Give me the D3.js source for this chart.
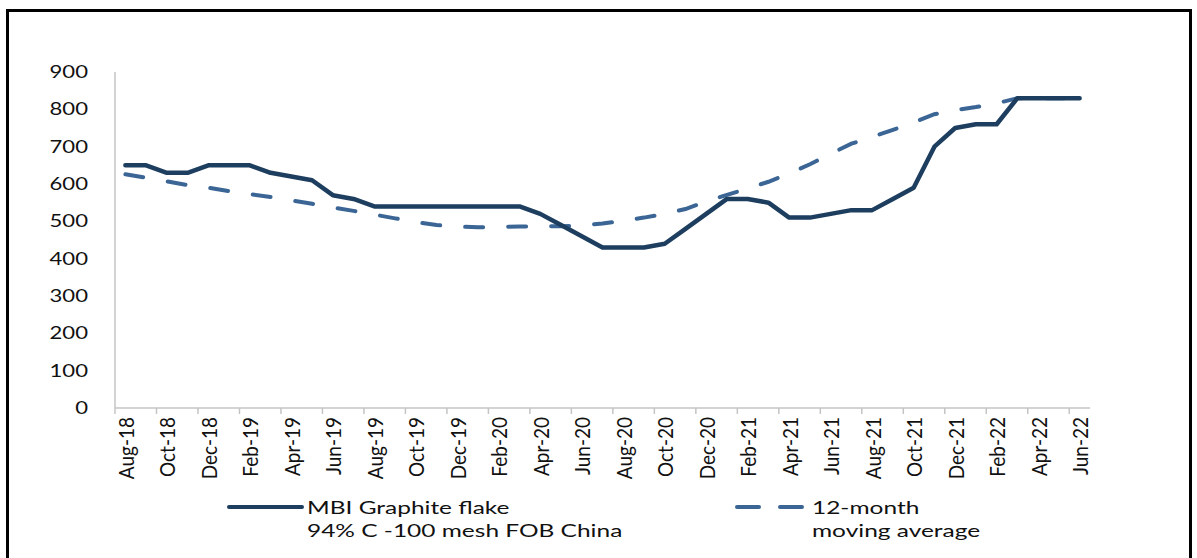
<!DOCTYPE html>
<html>
<head>
<meta charset="utf-8">
<script src="https://cdn.jsdelivr.net/npm/d3@7"></script>
<style>
  html, body { margin: 0; padding: 0; background: #fff; }
  svg { display: block; }
  text { font-family: Lato, "Open Sans", sans-serif; fill: #111; }
</style>
</head>
<body>
<svg id="chart" width="1197" height="558"></svg>
<script>
// ---- data ----
const months = [
  "Aug-18","Sep-18","Oct-18","Nov-18","Dec-18",
  "Jan-19","Feb-19","Mar-19","Apr-19","May-19","Jun-19","Jul-19","Aug-19","Sep-19","Oct-19","Nov-19","Dec-19",
  "Jan-20","Feb-20","Mar-20","Apr-20","May-20","Jun-20","Jul-20","Aug-20","Sep-20","Oct-20","Nov-20","Dec-20",
  "Jan-21","Feb-21","Mar-21","Apr-21","May-21","Jun-21","Jul-21","Aug-21","Sep-21","Oct-21","Nov-21","Dec-21",
  "Jan-22","Feb-22","Mar-22","Apr-22","May-22","Jun-22"
];
const priceValues = [
  650,650,630,630,650,
  650,650,630,620,610,570,560,540,540,540,540,540,
  540,540,540,520,490,460,430,430,430,440,480,520,
  560,560,550,510,510,520,530,530,560,590,700,750,
  760,760,830,830,830,830
];
const movingAvgValues = [
  626,617,607,597,590,
  581,573,565,556,547,537,528,518,508,498,490,486,
  484,485,486,487,487,489,494,502,510,520,533,553,
  571,588,606,628,653,681,708,726,745,765,787,798,
  806,816,830,830,830,830
];
const yTickValues = [0,100,200,300,400,500,600,700,800,900];
const seriesNames = [
  ["MBI Graphite flake", "94% C -100 mesh FOB China"],
  ["12-month", "moving average"]
];

// ---- layout ----
const svg = d3.select("#chart");
const plot = { left: 115, right: 1090, top: 72, bottom: 408 };
const solidColor = "#1d3e5f";
const dashColor = "#3a6595";
const axisColor = "#c4c4c4";

// frame
svg.append("rect")
  .attr("x", 7.5).attr("y", 10.5)
  .attr("width", 1183).attr("height", 560)
  .attr("fill", "none").attr("stroke", "#000").attr("stroke-width", 3);

const x = d3.scaleBand().domain(months).range([plot.left, plot.right]).paddingInner(0).paddingOuter(0);
const y = d3.scaleLinear().domain([0, 900]).range([plot.bottom, plot.top]);
const cx = m => x(m) + x.bandwidth() / 2;

// y axis line
svg.append("line")
  .attr("x1", plot.left).attr("x2", plot.left)
  .attr("y1", y(900)).attr("y2", y(0))
  .attr("stroke", axisColor).attr("stroke-width", 1.5);

// y labels
const ySx = 1.3;
svg.append("g").selectAll("text").data(yTickValues).join("text")
  .attr("transform", d => `translate(88,${y(d)}) scale(${ySx},1)`)
  .attr("text-anchor", "end")
  .attr("dy", "0.36em")
  .attr("font-size", 17)
  .text(d => d);

// x axis
const xAxisG = svg.append("g").attr("transform", `translate(0,${plot.bottom})`);
xAxisG.append("line")
  .attr("x1", plot.left).attr("x2", plot.right)
  .attr("y1", 0).attr("y2", 0)
  .attr("stroke", axisColor).attr("stroke-width", 1.5);
const labelled = months.filter((m, i) => i % 2 === 0);
xAxisG.selectAll("line.tick").data(labelled).join("line")
  .attr("class", "tick")
  .attr("x1", d => x(d)).attr("x2", d => x(d))
  .attr("y1", 0).attr("y2", 6)
  .attr("stroke", axisColor).attr("stroke-width", 1.5);
const xSx = 1.08;
xAxisG.selectAll("text").data(labelled).join("text")
  .attr("transform", d => `translate(${cx(d) + 1},9) scale(${xSx},1) rotate(-90)`)
  .attr("text-anchor", "end")
  .attr("dy", "0.36em")
  .attr("font-size", 19)
  .text(d => d);

// lines
const lineGen = d3.line().x(d => cx(d.m)).y(d => y(d.v));
const priceData = months.map((m, i) => ({ m, v: priceValues[i] }));
const maData = months.map((m, i) => ({ m, v: movingAvgValues[i] }));

svg.append("path").datum(maData)
  .attr("d", lineGen)
  .attr("fill", "none")
  .attr("stroke", dashColor)
  .attr("stroke-width", 4)
  .attr("stroke-linecap", "round")
  .attr("stroke-dasharray", "18,25");

svg.append("path").datum(priceData)
  .attr("d", lineGen)
  .attr("fill", "none")
  .attr("stroke", solidColor)
  .attr("stroke-width", 4.5)
  .attr("stroke-linejoin", "round")
  .attr("stroke-linecap", "round");

// legend
const legY = 507;
const leg = svg.append("g");
leg.append("line").attr("x1", 229).attr("x2", 302).attr("y1", legY).attr("y2", legY)
  .attr("stroke", solidColor).attr("stroke-width", 4).attr("stroke-linecap", "round");
leg.append("line").attr("x1", 737).attr("x2", 805).attr("y1", legY).attr("y2", legY)
  .attr("stroke", dashColor).attr("stroke-width", 4).attr("stroke-linecap", "round")
  .attr("stroke-dasharray", "22,21");
const legSx = 1.36;
const legTextX = [307, 812];
seriesNames.forEach((lines, k) => {
  lines.forEach((t, j) => {
    leg.append("text")
      .attr("transform", `translate(${legTextX[k]},${514 + j * 23}) scale(${legSx},1)`)
      .attr("font-size", 18)
      .text(t);
  });
});
</script>
</body>
</html>
